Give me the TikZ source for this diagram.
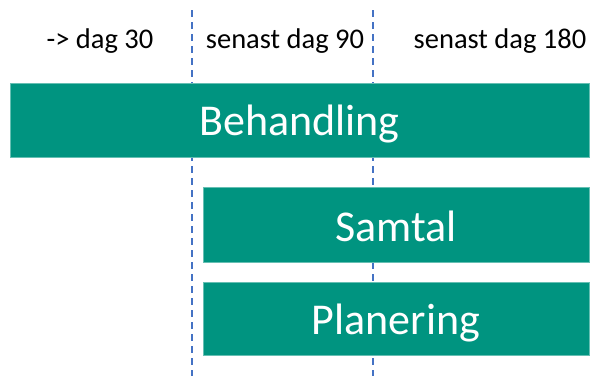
\documentclass[tikz,border=0pt]{standalone}
\usepackage{fontspec}
\setmainfont{Carlito}
\definecolor{barteal}{RGB}{0,148,128}
\definecolor{dashblue}{RGB}{68,114,196}
\tikzset{
  bar/.style={fill=barteal, draw=barteal!60!white, line width=0.6pt},
  bartext/.style={text=white, font=\fontsize{44}{48}\selectfont, anchor=base},
  toplabel/.style={text=black, font=\fontsize{28.5}{32}\selectfont, anchor=base},
  divider/.style={draw=dashblue, line width=1.8pt, dash pattern=on 7pt off 5pt}
}
\begin{document}
\begin{tikzpicture}[x=1pt,y=-1pt]
\useasboundingbox (0,0) rectangle (593,376);
\fill[white] (0,0) rectangle (593,376);
% dashed dividers (behind the bars)
\coordinate (d1top) at (192,10);
\coordinate (d1bot) at (192,376);
\coordinate (d2top) at (373,10);
\coordinate (d2bot) at (373,376);
\draw[divider] (d1top) -- (d1bot);
\draw[divider] (d2top) -- (d2bot);
% bars
\path[bar] (10,83) rectangle (589,157);
\path[bar] (203,187) rectangle (589,262);
\path[bar] (203,282) rectangle (589,355);
% labels
\node[bartext] (beh) at (299.5,135) {Behandling};
\node[bartext] (sam) at (396,241) {Samtal};
\node[bartext] (pla) at (396,334) {Planering};
\node[toplabel] (t1) at (100,48) {-> dag 30};
\node[toplabel] (t2) at (285,48) {senast dag 90};
\node[toplabel] (t3) at (500,48) {senast dag 180};
\end{tikzpicture}
\end{document}
